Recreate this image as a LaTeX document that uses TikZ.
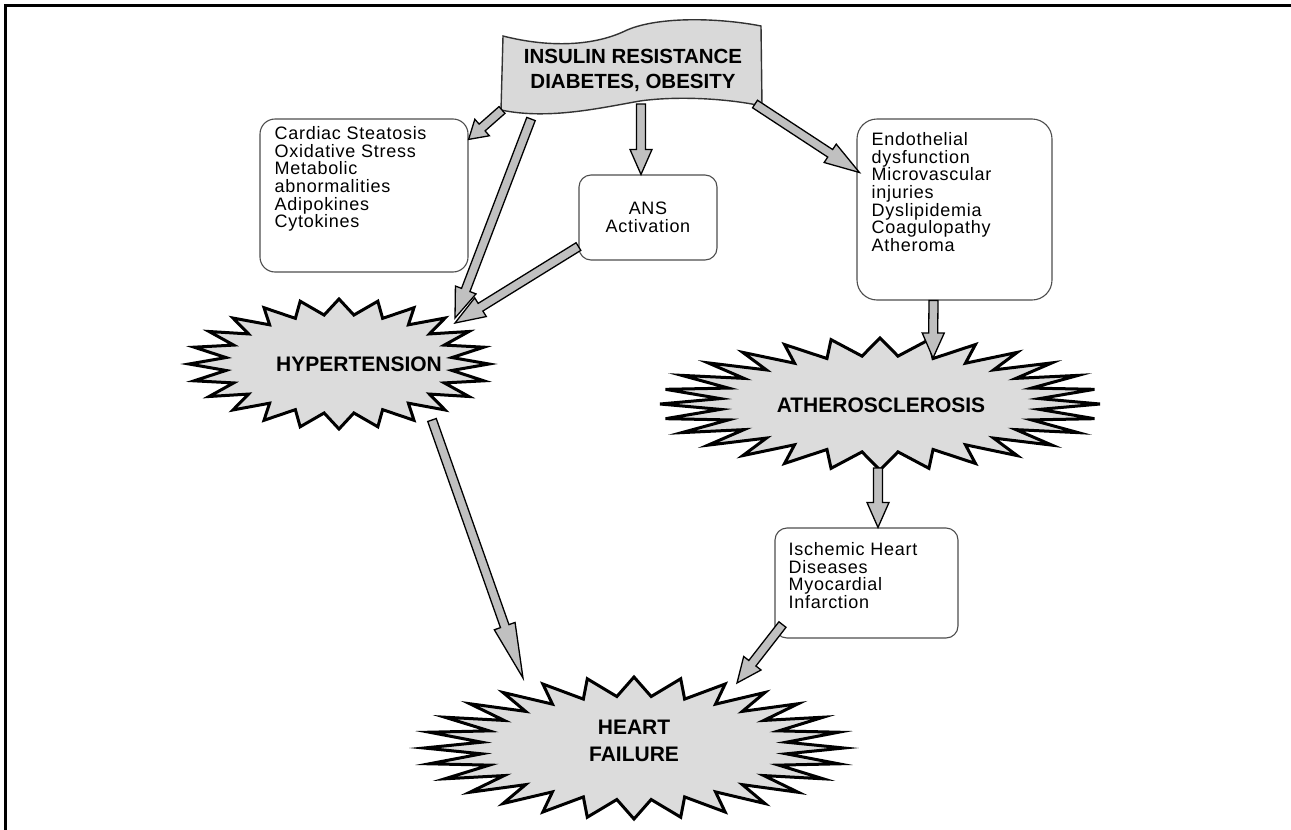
\documentclass[tikz,border=0pt]{standalone}
\usepackage{fontspec}
\setmainfont{Liberation Sans}
\newfontfamily\boxfont[LetterSpace=4]{Liberation Sans}
\usetikzlibrary{calc, positioning}

\definecolor{flaggray}{HTML}{D9D9D9}
\definecolor{burstgray}{HTML}{DCDCDC}
\definecolor{arrowgray}{HTML}{C0C0C0}
\definecolor{edgegray}{HTML}{4D4D4D}

\tikzset{
  box/.style={draw=edgegray, line width=1.1pt, fill=white, rounded corners=12pt, inner sep=0pt},
  boxtext/.style={font=\boxfont\fontsize{18}{17.6}\selectfont, align=left, inner sep=0pt},
  flag/.style={draw=black!80, line width=1.4pt, fill=flaggray},
  title/.style={font=\bfseries\fontsize{20.5}{25}\selectfont, align=center, inner sep=0pt},
  burst/.style={draw=black, line width=3pt, fill=burstgray, line join=miter},
  bursttext/.style={font=\bfseries\fontsize{21}{27}\selectfont, align=center, inner sep=0pt},
  barrow/.style={draw=black, line width=1.3pt, fill=arrowgray, line join=miter},
}

% spiky ellipse: centre x, centre y, rx, ry, spikes, depth
\newcommand{\burst}[6]{%
  \pgfmathtruncatemacro\nv{2*#5-1}
  \draw[burst] ({#1+#3},{#2})
    \foreach \k in {1,...,\nv} {
      -- ({#1+#3*(1-#6*mod(\k,2))*cos(\k*180/#5)},{#2+#4*(1-#6*mod(\k,2))*sin(\k*180/#5)})
    } -- cycle;}

% block arrow from #2 to #3, head length #1
\newcommand{\barrow}[3][26]{%
  \draw[barrow] let \p1=(#2), \p2=(#3),
      \n1={atan2(\y2-\y1,\x2-\x1)}, \n2={veclen(\x2-\x1,\y2-\y1)} in
    [shift={(\p1)}, rotate=\n1]
    (0,4.5) -- ({\n2-#1},4.5) -- ({\n2-#1},11) -- ({\n2},0)
    -- ({\n2-#1},-11) -- ({\n2-#1},-4.5) -- (0,-4.5) -- cycle;}

\begin{document}
\begin{tikzpicture}[x=1pt, y=1pt]
\useasboundingbox (0,0) rectangle (1291,-830);
% frame, only top and left edge inside the page
\draw[line width=3pt] (5,-830) -- (5,-5) -- (1291,-5);

% wavy banner on top
\draw[flag] (503,-36) .. controls (550,-48) and (595,-46) .. (627,-30)
  .. controls (660,-16) and (720,-18) .. (761,-26) -- (762,-106)
  .. controls (725,-98) and (675,-96) .. (640,-101)
  .. controls (600,-108) and (548,-120) .. (501,-110) -- cycle;
\node[title] (irs) at (633,-70) {INSULIN RESISTANCE\\DIABETES, OBESITY};

% boxes
\node[box, minimum width=208, minimum height=153, rounded corners=15] (cardiac) at (364,-195.5) {};
\node[boxtext, anchor=north west] (cardiactxt) at ([shift={(15,-8)}]cardiac.north west)
  {Cardiac Steatosis\\Oxidative Stress\\Metabolic\\abnormalities\\Adipokines\\Cytokines};
\node[box, boxtext, align=center, minimum width=138, minimum height=85] (ans) at (648,-217.5)
  {ANS\\Activation};
\node[box, minimum width=195, minimum height=181, rounded corners=20] (endo) at (954.5,-209.5) {};
\node[boxtext, anchor=north west] (endotxt) at ([shift={(15,-14)}]endo.north west)
  {Endothelial\\dysfunction\\Microvascular\\injuries\\Dyslipidemia\\Coagulopathy\\Atheroma};
\node[box, minimum width=183, minimum height=110] (isch) at (866.5,-583) {};
\node[boxtext, anchor=north west] (ischtxt) at ([shift={(14,-15)}]isch.north west)
  {Ischemic Heart\\Diseases\\Myocardial\\Infarction};

% starbursts
\burst{339}{-364}{150}{65}{24}{0.24}
\node[bursttext] (hyper) at (359,-364) {HYPERTENSION};
\burst{880}{-404}{220}{66}{28}{0.27}
\node[bursttext] (athero) at (881,-405) {ATHEROSCLEROSIS};
\burst{634}{-748}{210}{71}{28}{0.27}
\node[bursttext] (hf) at (634,-741) {HEART\\FAILURE};

% arrow ends
\coordinate (f1) at (502,-110);
\coordinate (f2) at (531,-119);
\coordinate (f3) at (641,-104);
\coordinate (f4) at (755,-104);
\coordinate (hyptop) at (455,-318);
\coordinate (hypin) at (455,-323);
\coordinate (hypbot) at (432,-420);
\coordinate (athtop) at (933,-358);
\coordinate (athbot) at (878,-468);
\coordinate (hftop) at (523,-678);
\coordinate (hfright) at (737,-683);

% arrows
\barrow[18]{f1}{$(cardiac.north east)+(0,-21)$}
\barrow[30]{f2}{hyptop}
\barrow[25]{f3}{$(ans.north)+(-7,0)$}
\barrow[30]{$(ans.south west)+(0,14)$}{hypin}
\barrow[35]{f4}{$(endo.west)+(3,37)$}
\barrow[25]{$(endo.south)+(-21,0)$}{athtop}
\barrow[25]{athbot}{$(isch.north)+(11.5,0)$}
\barrow[55]{hypbot}{hftop}
\barrow[25]{$(isch.south west)+(8,14)$}{hfright}
\end{tikzpicture}
\end{document}
